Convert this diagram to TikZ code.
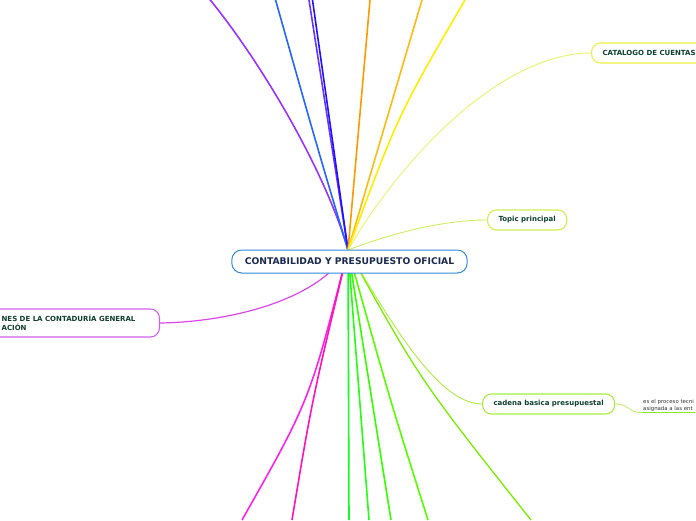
\documentclass[tikz,border=0pt]{standalone}
\usepackage{fontspec}
\setmainfont{DejaVu Sans}
\usetikzlibrary{backgrounds}

\definecolor{centralborder}{HTML}{3388D8}
\definecolor{centraltext}{HTML}{1A2A50}
\definecolor{topictext}{HTML}{0F3F30}
\definecolor{catborder}{HTML}{EEF044}
\definecolor{topicborder}{HTML}{D0F050}
\definecolor{cadenaborder}{HTML}{A8EE40}
\definecolor{funcborder}{HTML}{D060F0}

\begin{document}
\begin{tikzpicture}[x=1pt, y=-1pt,
        central/.style={
            draw=centralborder,
            fill=white,
            line width=1pt,
            rounded corners=10pt,
            minimum height=23pt,
            inner xsep=13pt,
            text=centraltext,
            font=\fontsize{9.2}{11}\selectfont\bfseries
        },
        topic/.style={
            draw,
            fill=white,
            line width=1.1pt,
            rounded corners=9pt,
            minimum height=20pt,
            inner xsep=11pt,
            text=topictext,
            font=\fontsize{7}{8.8}\selectfont\bfseries
        },
        note/.style={
            inner sep=1pt,
            align=left,
            text=black!80,
            font=\fontsize{5.4}{7}\selectfont
        },
        branch/.style={
            line width=1.6pt
        },
        link/.style={
            line width=0.9pt
        }
    ]
    \useasboundingbox (0,0) rectangle (696,520);

    \node[central] (main) at (349.5,261.5) {CONTABILIDAD Y PRESUPUESTO OFICIAL};
    \node[topic, draw=catborder, anchor=west] (catalogo) at (591,53) {CATALOGO DE CUENTAS};
    \node[topic, draw=topicborder, anchor=west] (principal) at (487,220) {Topic principal};
    \node[topic, draw=cadenaborder, anchor=west] (cadena) at (482,404) {cadena basica presupuestal};
    \node[topic, draw=funcborder, anchor=east, align=left, inner xsep=24pt, minimum height=28pt] (funciones) at (160,323) {NES DE LA CONTADURÍA GENERAL\\ACIÓN};
    \node[note, anchor=south west] (nota) at (642,412.5) {es el proceso tecni\\asignada a las ent};

    \coordinate (hub) at (348,250);
    % free ends at the page edge
    \coordinate (t1) at (207,-4);
    \coordinate (t2) at (275,-2);
    \coordinate (t3) at (309,0);
    \coordinate (t4) at (312.5,0);
    \coordinate (t5) at (370,0);
    \coordinate (t6) at (422,0);
    \coordinate (t7) at (465,0);
    \coordinate (b1) at (242,520);
    \coordinate (b2) at (292,520);
    \coordinate (b3) at (349,520);
    \coordinate (b4) at (369,520);
    \coordinate (b5) at (391,520);
    \coordinate (b6) at (428,520);
    \coordinate (b7) at (531,520);

    \begin{scope}[on background layer]
    % upper branches
    \draw[branch, color={rgb,255:red,153;green,51;blue,255}] (hub) .. controls (325,170) and (260,60) .. (t1);
    \draw[branch, color={rgb,255:red,34;green,102;blue,255}] (hub) .. controls (318,150) .. (t2);
    \draw[branch, color={rgb,255:red,102;green,51;blue,255}] (hub) -- (t3);
    \draw[branch, color={rgb,255:red,34;green,17;blue,255}] (hub) -- (t4);
    \draw[branch, color={rgb,255:red,255;green,153;blue,0}] (hub) -- (t5);
    \draw[branch, color={rgb,255:red,255;green,187;blue,17}] (hub) -- (t6);
    \draw[branch, color={rgb,255:red,255;green,238;blue,0}] (hub) .. controls (398,115) .. (t7);
    \draw[link, color={rgb,255:red,232;green,245;blue,106}] (hub) .. controls (400,160) and (500,53) .. (catalogo.west);
    \draw[link, color={rgb,255:red,204;green,240;blue,96}] (hub) .. controls (395,232) and (445,220) .. (principal.west);
    % lower branches
    \draw[link, line width=1.2pt, color={rgb,255:red,221;green,68;blue,238}] (hub) .. controls (320,300) and (230,322) .. (funciones.east);
    \draw[branch, color={rgb,255:red,255;green,34;blue,238}] (hub) .. controls (310,400) .. (b1);
    \draw[branch, color={rgb,255:red,255;green,17;blue,187}] (hub) .. controls (312,400) .. (b2);
    \draw[branch, color={rgb,255:red,17;green,255;blue,34}] (hub) -- (b3);
    \draw[branch, color={rgb,255:red,34;green,255;blue,17}] (hub) -- (b4);
    \draw[branch, color={rgb,255:red,51;green,255;blue,0}] (hub) -- (b5);
    \draw[branch, color={rgb,255:red,85;green,255;blue,0}] (hub) .. controls (390,400) .. (b6);
    \draw[link, line width=1.3pt, color={rgb,255:red,119;green,238;blue,0}] (hub) .. controls (420,380) .. (b7);
    \draw[link, color={rgb,255:red,170;green,240;blue,64}] (hub) .. controls (395,330) and (440,404) .. (cadena.west);
    \end{scope}

    \draw[link, color={rgb,255:red,190;green,245;blue,110}] (cadena.east) .. controls (630,404) and (628,413) .. (nota.south west);
    \draw[link, line width=1.2pt, color={rgb,255:red,136;green,238;blue,34}] (nota.south west) -- (nota.south east);

\end{tikzpicture}
\end{document}
